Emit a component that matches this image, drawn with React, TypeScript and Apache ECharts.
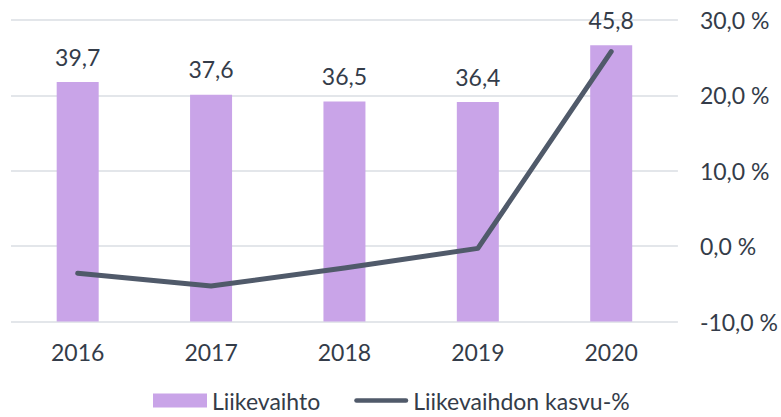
import React, { useEffect, useRef } from "react";
import * as echarts from "echarts";

const categories = ["2016", "2017", "2018", "2019", "2020"];
const revenue = [39.7, 37.6, 36.5, 36.4, 45.8];
const growth = [-3.6, -5.3, -2.9, -0.3, 25.8];
const barName = "Liikevaihto";
const lineName = "Liikevaihdon kasvu-%";

const FONT = "Lato";
const TEXT = "#343c49";
const FS = 23;

export default function App() {
  const ref = useRef<HTMLDivElement>(null);
  useEffect(() => {
    if (!ref.current) return;
    const chart = echarts.init(ref.current, null, { renderer: "svg" });
    chart.setOption({
      animation: false,
      textStyle: { fontFamily: FONT },
      grid: { left: 11, right: 99, top: 20, bottom: 95.5, containLabel: false },
      legend: {
        bottom: 0,
        left: 148,
        itemWidth: 54,
        itemHeight: 14,
        itemGap: 34,
        symbolKeepAspect: true,
        textStyle: { fontFamily: FONT, fontSize: FS, color: TEXT },
        data: [
          { name: barName, icon: "rect" },
          {
            name: lineName,
            icon: "path://M2.5,0 H57.5 A2.5,2.5 0 0 1 57.5,5 H2.5 A2.5,2.5 0 0 1 2.5,0 Z",
          },
        ],
      },
      xAxis: {
        type: "category",
        data: categories,
        axisLine: { show: false },
        axisTick: { show: false },
        axisLabel: { fontFamily: FONT, fontSize: FS, color: TEXT, margin: 19 },
      },
      yAxis: [
        {
          type: "value",
          min: 0,
          max: 50,
          show: false,
          splitLine: { show: false },
        },
        {
          type: "value",
          position: "right",
          min: -10,
          max: 30,
          interval: 10,
          axisLine: { show: false },
          axisTick: { show: false },
          splitLine: { show: true, lineStyle: { color: "#e3e6ea", width: 2 } },
          axisLabel: {
            fontFamily: FONT,
            fontSize: FS,
            color: TEXT,
            margin: 22,
            formatter: (v: number) => v.toFixed(1).replace(".", ",") + " %",
          },
        },
      ],
      series: [
        {
          name: barName,
          type: "bar",
          yAxisIndex: 0,
          data: revenue,
          barWidth: 42,
          itemStyle: { color: "#c9a4e8" },
          label: {
            show: true,
            position: "top",
            distance: 14,
            fontFamily: FONT,
            fontSize: FS,
            color: TEXT,
            formatter: (p: any) => p.value.toFixed(1).replace(".", ","),
          },
        },
        {
          name: lineName,
          type: "line",
          yAxisIndex: 1,
          data: growth,
          symbol: "none",
          lineStyle: { color: "#505a6a", width: 5, cap: "round", join: "round" },
          itemStyle: { color: "#505a6a" },
        },
      ],
    });
    return () => chart.dispose();
  }, []);
  return <div ref={ref} style={{ width: 781, height: 417, position: "absolute", left: 0, top: 0 }} />;
}
